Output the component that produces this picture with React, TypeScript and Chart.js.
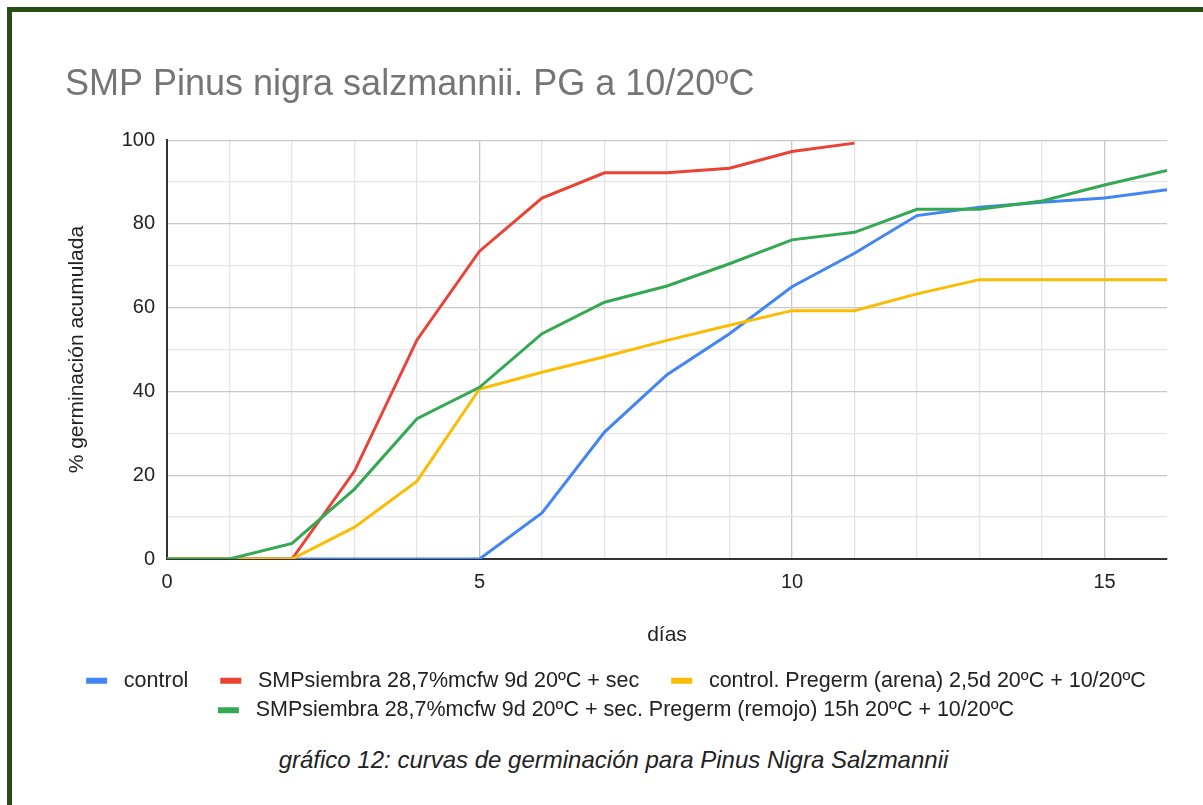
import React, { useEffect, useRef } from 'react';
import { Chart, registerables } from 'chart.js';

Chart.register(...registerables);

const days = [0, 1, 2, 3, 4, 5, 6, 7, 8, 9, 10, 11, 12, 13, 14, 15, 16];
const seriesNames = [
  'control',
  'SMPsiembra 28,7%mcfw 9d 20ºC + sec',
  'control. Pregerm (arena) 2,5d 20ºC + 10/20ºC',
  'SMPsiembra 28,7%mcfw 9d 20ºC + sec. Pregerm (remojo) 15h 20ºC + 10/20ºC',
];
const controlValues = [0, 0, 0, 0, 0, 0, 11, 30.3, 44, 53.8, 65, 73, 82, 84, 85.2, 86.2, 88.2];
const smpValues = [0, 0, 0, 21, 52.3, 73.5, 86.2, 92.2, 92.2, 93.3, 97.3, 99.3];
const pregermArenaValues = [0, 0, 0, 7.6, 18.6, 40.6, 44.6, 48.3, 52.2, 55.8, 59.3, 59.3, 63.3, 66.7, 66.7, 66.7, 66.7];
const pregermRemojoValues = [0, 0, 3.7, 16.7, 33.5, 41, 53.8, 61.3, 65.2, 70.5, 76.2, 78, 83.5, 83.5, 85.5, 89.3, 92.8];
const seriesColors = ['#4285f4', '#ea4335', '#fbbc04', '#34a853'];
const xTickLabels = [0, 5, 10, 15];
const yTickLabels = [0, 20, 40, 60, 80, 100];

const FONT = "'Liberation Sans', Arial, sans-serif";

function toPoints(values: number[]) {
  return values.map((v, i) => ({ x: days[i], y: v }));
}

export default function App() {
  const ref = useRef<HTMLCanvasElement>(null);

  useEffect(() => {
    const allValues = [controlValues, smpValues, pregermArenaValues, pregermRemojoValues];
    const orders = [4, 3, 2, 1];
    const chart = new Chart(ref.current as HTMLCanvasElement, {
      type: 'line',
      data: {
        datasets: allValues.map((vals, i) => ({
          label: seriesNames[i],
          data: toPoints(vals),
          borderColor: seriesColors[i],
          backgroundColor: seriesColors[i],
          borderWidth: 3,
          pointRadius: 0,
          pointHoverRadius: 0,
          tension: 0,
          fill: false,
          order: orders[i],
        })),
      },
      options: {
        responsive: false,
        animation: false,
        layout: { padding: { left: 53, right: 36, top: 0, bottom: 0 } },
        plugins: {
          tooltip: { enabled: false },
          title: {
            display: true,
            text: 'SMP Pinus nigra salzmannii. PG a 10/20ºC',
            align: 'start',
            color: '#757575',
            font: { family: FONT, size: 36, weight: 'normal' },
            padding: { top: 51, bottom: 34 },
          },
          legend: {
            position: 'bottom',
            align: 'center',
            labels: {
              color: '#222222',
              font: { family: FONT, size: 21.5 },
              boxWidth: 21,
              boxHeight: 6,
              padding: 8,
              sort: (a: any, b: any) => a.datasetIndex - b.datasetIndex,
              generateLabels: (c: any) => {
                const base = Chart.defaults.plugins.legend.labels.generateLabels(c);
                return base.map((l: any) => {
                  const idx = l.datasetIndex;
                  const trailing = idx === 0 || idx === 1 ? '    ' : '';
                  return { ...l, lineWidth: 0, text: ' ' + seriesNames[idx] + trailing };
                });
              },
            },
          },
        },
        scales: {
          x: {
            type: 'linear',
            min: 0,
            max: 16,
            afterFit: (scale: any) => {
              scale.height = 103;
            },
            ticks: {
              stepSize: 1,
              autoSkip: false,
              maxRotation: 0,
              padding: 11,
              color: '#222222',
              font: { family: FONT, size: 20 },
              callback: (v: any) => (xTickLabels.includes(Number(v)) ? String(v) : ''),
            },
            grid: {
              drawTicks: false,
              lineWidth: 1.3,
              color: (ctx: any) => {
                const v = ctx.tick ? ctx.tick.value : 0;
                if (v === 16) return 'rgba(0,0,0,0)';
                return v % 5 === 0 ? '#c8c8c8' : '#e4e4e4';
              },
            },
            border: { color: '#333333', width: 2 },
            title: {
              display: true,
              text: 'días',
              color: '#222222',
              font: { family: FONT, size: 21 },
              padding: { top: 0, bottom: 14 },
            },
          },
          y: {
            type: 'linear',
            min: 0,
            max: 100,
            afterFit: (scale: any) => {
              scale.width = 102;
            },
            ticks: {
              stepSize: 10,
              autoSkip: false,
              padding: 12,
              color: '#222222',
              font: { family: FONT, size: 20 },
              callback: (v: any) => (yTickLabels.includes(Number(v)) ? String(v) : ''),
            },
            grid: {
              drawTicks: false,
              lineWidth: 1.3,
              color: (ctx: any) => {
                const v = ctx.tick ? ctx.tick.value : 0;
                return v % 20 === 0 ? '#c8c8c8' : '#e4e4e4';
              },
            },
            border: { color: '#333333', width: 2 },
            title: {
              display: true,
              text: '% germinación acumulada',
              color: '#222222',
              font: { family: FONT, size: 21 },
              padding: { top: 0, bottom: 0 },
            },
          },
        },
      },
    } as any);
    return () => chart.destroy();
  }, []);

  return (
    <div
      style={{
        position: 'absolute',
        left: 0,
        top: 0,
        width: 1203,
        height: 805,
        overflow: 'hidden',
        background: '#ffffff',
      }}
    >
      <div
        style={{
          position: 'absolute',
          left: 7,
          top: 7,
          width: 1210,
          height: 810,
          borderTop: '5px solid #274e13',
          borderLeft: '5px solid #274e13',
        }}
      />
      <canvas
        ref={ref}
        width={1191}
        height={719}
        style={{ position: 'absolute', left: 12, top: 12, width: 1191, height: 719 }}
      />
      <div
        style={{
          position: 'absolute',
          left: 12,
          top: 746,
          width: 1203,
          textAlign: 'center',
          fontFamily: FONT,
          fontStyle: 'italic',
          fontSize: 24,
          lineHeight: '28px',
          color: '#222222',
          whiteSpace: 'nowrap',
        }}
      >
        gráfico 12: curvas de germinación para Pinus Nigra Salzmannii
      </div>
    </div>
  );
}
